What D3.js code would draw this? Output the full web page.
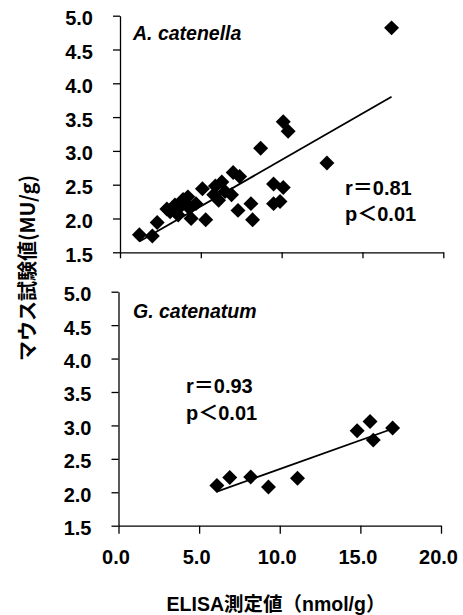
<!DOCTYPE html>
<html>
<head>
<meta charset="utf-8">
<script src="https://cdn.jsdelivr.net/npm/d3@7"></script>
<style>
  html, body { margin: 0; padding: 0; background: #fff; }
  svg { display: block; }
  text { fill: #000; }
</style>
</head>
<body>
<svg id="chart" width="463" height="615"></svg>
<script>
// ---- Data ----
const xTicks = [0, 5, 10, 15, 20];
const xTickLabels = ["0.0", "5.0", "10.0", "15.0", "20.0"];
const yTicks = [1.5, 2.0, 2.5, 3.0, 3.5, 4.0, 4.5, 5.0];
const yTickLabels = ["1.5", "2.0", "2.5", "3.0", "3.5", "4.0", "4.5", "5.0"];

// A. catenella: ELISA (nmol/g) vs mouse bioassay (MU/g)
const catenellaX = [1.2, 2.0, 2.3, 2.9, 3.1, 3.4, 3.6, 3.7, 3.9, 4.0, 4.2, 4.3, 4.4, 4.7,
                    5.1, 5.3, 5.8, 5.9, 6.1, 6.3, 6.5, 6.9, 7.0, 7.4, 7.3,
                    8.1, 8.2, 8.7, 9.5, 9.5, 9.9, 10.1, 10.1, 10.4, 12.8, 16.8];
const catenellaY = [1.76, 1.74, 1.94, 2.14, 2.10, 2.20, 2.05, 2.17, 2.28, 2.25, 2.32, 2.15, 2.00, 2.22,
                    2.44, 1.98, 2.35, 2.48, 2.27, 2.54, 2.40, 2.35, 2.68, 2.62, 2.12,
                    2.22, 1.98, 3.04, 2.51, 2.22, 2.25, 2.46, 3.43, 3.29, 2.82, 4.82];
const catenellaTrendX = [1.2, 16.8];
const catenellaTrendY = [1.66, 3.80];

// G. catenatum
const catenatumX = [6.1, 6.9, 8.2, 9.3, 11.1, 14.8, 15.6, 15.8, 17.0];
const catenatumY = [2.10, 2.22, 2.23, 2.08, 2.21, 2.92, 3.06, 2.78, 2.96];
const catenatumTrendX = [6.1, 17.0];
const catenatumTrendY = [2.01, 2.95];

const panelTitles = ["A. catenella", "G. catenatum"];
const statsR = ["r＝0.81", "r＝0.93"];
const statsP = ["p＜0.01", "p＜0.01"];
const yTitle = "マウス試験値(MU/g)";
const xTitle = "ELISA測定値（nmol/g）";

// ---- Drawing ----
const svg = d3.select("#chart");
const latin = "'Liberation Sans', Arial, 'Noto Sans CJK JP', sans-serif";

const panels = [
  { left: 120, right: 443.3, top: 15.7, bottom: 252.3, tickLen: 6,
    xs: catenellaX, ys: catenellaY, tx: catenellaTrendX, ty: catenellaTrendY,
    title: panelTitles[0], titlePos: [133, 40],
    r: statsR[0], p: statsP[0], statPos: [345, 195, 221], showXLabels: false },
  { left: 118.5, right: 441, top: 291.7, bottom: 525.7, tickLen: 8,
    xs: catenatumX, ys: catenatumY, tx: catenatumTrendX, ty: catenatumTrendY,
    title: panelTitles[1], titlePos: [133, 318],
    r: statsR[1], p: statsP[1], statPos: [186, 393, 420], showXLabels: true }
];

const diamond = d3.symbol().type(d3.symbolSquare).size(112);

panels.forEach(P => {
  const x = d3.scaleLinear().domain([0, 20]).range([P.left, P.right]);
  const y = d3.scaleLinear().domain([1.5, 5.0]).range([P.bottom, P.top]);

  // Y axis
  const yAxis = d3.axisLeft(y).tickValues(yTicks).tickSize(7).tickSizeOuter(0)
    .tickPadding(20)
    .tickFormat((d, i) => yTickLabels[i]);
  const gy = svg.append("g").attr("transform", `translate(${P.left},0)`).call(yAxis);
  gy.selectAll("path, line").attr("stroke", "#000").attr("stroke-width", 1.3);
  gy.selectAll("text")
    .attr("dy", "0.45em")
    .style("font-family", latin).style("font-size", "20px").style("font-weight", "bold")
    .attr("fill", "#000");

  // X axis
  const xAxis = d3.axisBottom(x).tickValues(xTicks).tickSize(P.tickLen).tickSizeOuter(0)
    .tickPadding(16)
    .tickFormat((d, i) => P.showXLabels ? xTickLabels[i] : "");
  const gx = svg.append("g").attr("transform", `translate(0,${P.bottom})`).call(xAxis);
  gx.selectAll("path, line").attr("stroke", "#000").attr("stroke-width", 1.3);
  gx.selectAll("text")
    .attr("dx", -3)
    .style("font-family", latin).style("font-size", "20px").style("font-weight", "bold")
    .attr("fill", "#000");

  // Trend line
  const trend = P.tx.map((v, i) => [v, P.ty[i]]);
  svg.append("path")
    .attr("d", d3.line().x(d => x(d[0])).y(d => y(d[1]))(trend))
    .attr("stroke", "#000").attr("stroke-width", 1.8).attr("fill", "none");

  // Points
  const pts = P.xs.map((v, i) => [v, P.ys[i]]);
  svg.append("g").selectAll("path").data(pts).join("path")
    .attr("d", diamond)
    .attr("transform", d => `translate(${x(d[0])},${y(d[1])}) rotate(45)`)
    .attr("fill", "#000");

  // Panel title
  svg.append("text")
    .attr("x", P.titlePos[0]).attr("y", P.titlePos[1])
    .style("font-family", latin).style("font-size", "19.5px")
    .style("font-style", "italic").style("font-weight", "bold")
    .text(P.title);

  // Stats
  svg.append("text").attr("x", P.statPos[0]).attr("y", P.statPos[1])
    .style("font-family", latin).style("font-size", "20px").style("font-weight", "bold")
    .text(P.r);
  svg.append("text").attr("x", P.statPos[0]).attr("y", P.statPos[2])
    .style("font-family", latin).style("font-size", "20px").style("font-weight", "bold")
    .text(P.p);
});

// Axis titles
svg.append("text")
  .attr("transform", "translate(35,268) rotate(-90)")
  .attr("text-anchor", "middle")
  .style("font-family", "'Noto Sans CJK JP', sans-serif").style("font-size", "20px").style("font-weight", "bold")
  .text(yTitle);

svg.append("text")
  .attr("x", 276).attr("y", 611)
  .attr("text-anchor", "middle")
  .style("font-family", "'Liberation Sans', 'Noto Sans CJK JP', sans-serif").style("font-size", "19.5px").style("font-weight", "bold")
  .text(xTitle);
</script>
</body>
</html>
